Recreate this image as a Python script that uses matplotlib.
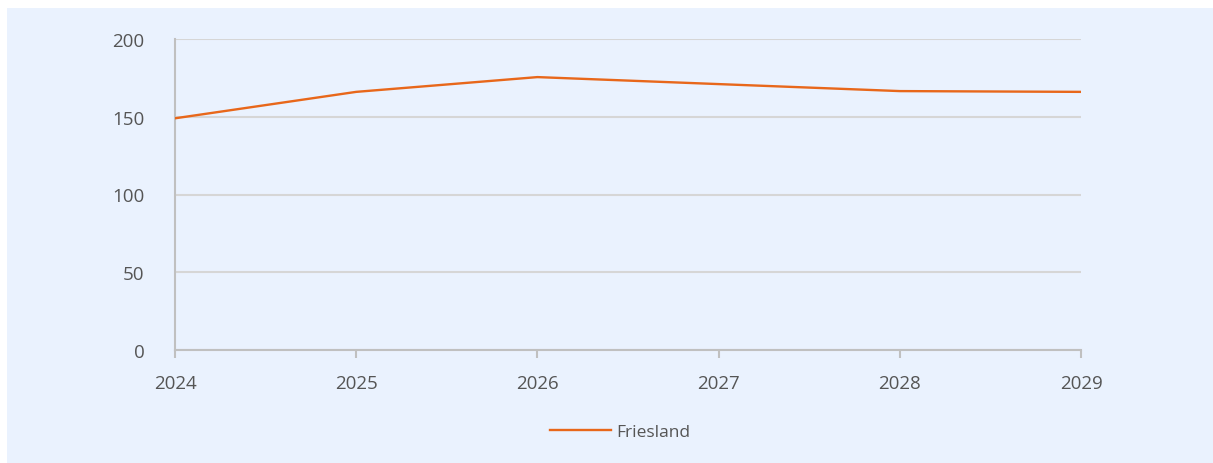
import matplotlib.pyplot as plt
import matplotlib.patches as patches

jaren = [2024, 2025, 2026, 2027, 2028, 2029]
friesland = [149, 166, 175.5, 171, 166.5, 166]

W, H = 1213, 464
fig = plt.figure(figsize=(W / 100, H / 100), dpi=100)
fig.patch.set_facecolor("white")
fig.add_artist(patches.Rectangle((7 / W, 0), 1 - 7 / W, 1 - 9 / H,
                                 transform=fig.transFigure, facecolor="#eaf2fe",
                                 edgecolor="none", zorder=0))

ax = fig.add_axes([175 / W, 1 - 351 / H, (1081 - 175) / W, (351 - 40) / H])
ax.set_facecolor("none")
ax.plot(jaren, friesland, color="#e8671a", lw=1.7, label="Friesland", zorder=3)

ax.set_xlim(2024, 2029)
ax.set_ylim(0, 200)
ax.set_yticks([0, 50, 100, 150, 200])
ax.set_xticks(jaren)
ax.grid(axis="y", color="#d6d6d6", lw=1.5)
ax.set_axisbelow(True)
for s in ["top", "right"]:
    ax.spines[s].set_visible(False)
for s in ["left", "bottom"]:
    ax.spines[s].set_color("#c0c0c0")
    ax.spines[s].set_linewidth(1.5)
ax.tick_params(axis="y", length=0, pad=22, labelsize=13.5, labelcolor="#555555")
ax.tick_params(axis="x", length=6, width=1.5, color="#c0c0c0", pad=11,
               labelsize=13.5, labelcolor="#555555")
for lbl in ax.get_xticklabels() + ax.get_yticklabels():
    lbl.set_fontfamily("Open Sans")

leg = ax.legend(loc="center", bbox_to_anchor=(620 / W, 1 - 433 / H),
                bbox_transform=fig.transFigure, frameon=False,
                prop={"family": "Open Sans", "size": 12.5}, handlelength=3.5,
                handletextpad=0.3)
for t in leg.get_texts():
    t.set_color("#555555")

fig.savefig("out.png", dpi=100)
